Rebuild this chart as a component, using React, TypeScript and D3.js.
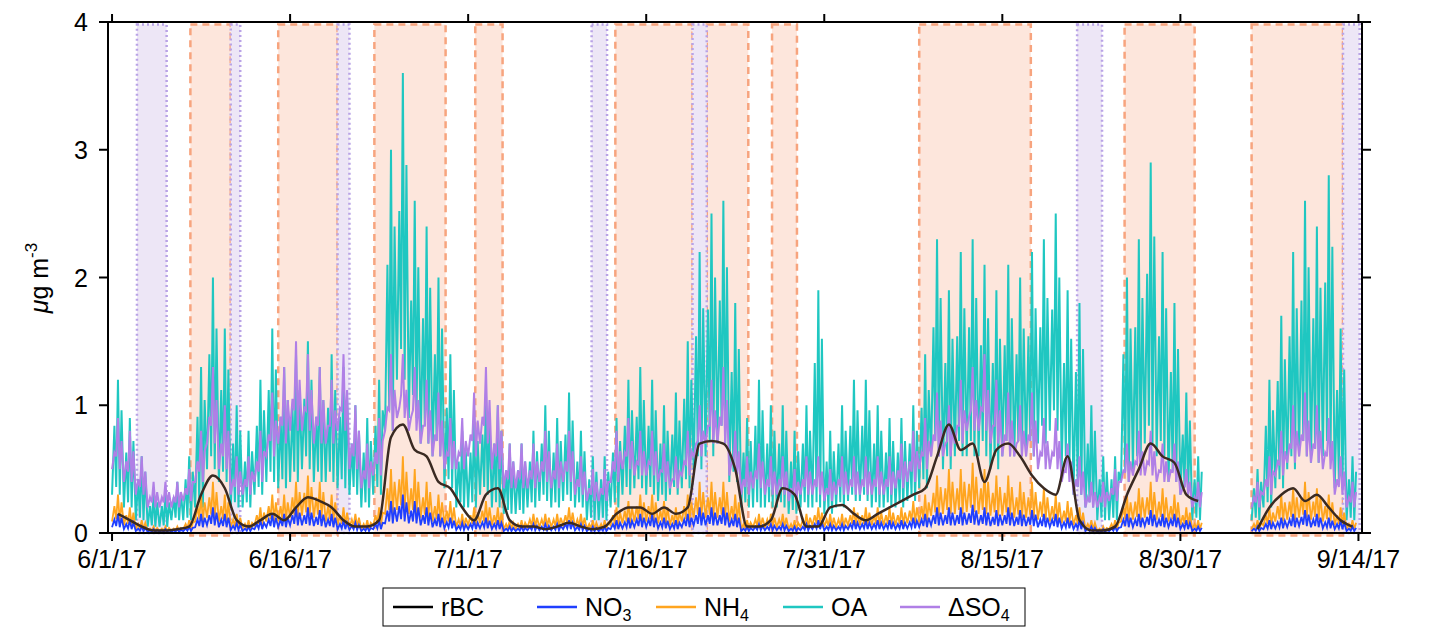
import React, { useEffect, useRef } from 'react';
import * as d3 from 'd3';

// Daily values, day 0 = 6/1/17. null = no data.
const N = null;
const oaPeak = [1.2,0.9,0.6,0.3,0.3,0.4,0.6,1.3,2.0,1.6,1.0,0.8,1.2,1.6,1.3,1.4,1.5,1.3,1.4,1.3,1.0,0.9,1.2,3.0,3.6,2.6,2.4,2.0,1.4,0.8,0.9,1.1,1.0,0.7,0.7,0.8,1.0,0.9,1.1,0.8,0.6,0.6,0.9,1.2,1.3,1.2,1.0,1.1,1.5,2.2,2.5,2.6,1.8,0.9,1.2,1.0,1.0,0.8,1.0,1.9,0.8,1.0,1.2,1.2,1.0,0.9,0.9,1.0,1.4,2.3,1.9,2.2,2.3,2.1,1.9,2.1,2.0,2.2,2.3,2.5,1.9,1.8,1.0,0.6,0.6,2.0,2.3,2.9,2.2,1.8,1.1,0.6,N,N,N,N,0.5,1.2,1.7,2.2,2.6,2.4,2.8,1.6,0.6];
const oaLow = [0.3,0.2,0.1,0.05,0.05,0.1,0.1,0.2,0.5,0.4,0.2,0.2,0.3,0.4,0.35,0.4,0.5,0.4,0.4,0.35,0.3,0.2,0.3,0.8,1.2,0.9,0.7,0.6,0.35,0.2,0.2,0.3,0.2,0.15,0.15,0.2,0.25,0.2,0.25,0.2,0.1,0.1,0.2,0.3,0.35,0.3,0.25,0.3,0.35,0.5,0.6,0.7,0.4,0.2,0.2,0.2,0.2,0.15,0.2,0.2,0.15,0.2,0.25,0.25,0.2,0.2,0.2,0.25,0.35,0.6,0.5,0.6,0.6,0.6,0.5,0.6,0.6,0.6,0.7,0.8,0.5,0.3,0.2,0.1,0.1,0.4,0.5,0.7,0.6,0.4,0.3,0.1,N,N,N,N,0.1,0.2,0.35,0.5,0.6,0.55,0.6,0.35,0.1];
const so4Peak = [0.9,0.8,0.6,0.4,0.4,0.4,0.5,0.8,1.3,1.0,0.6,0.6,0.8,1.1,1.3,1.5,1.4,1.3,1.2,1.4,1.0,0.7,0.9,1.4,1.4,1.3,1.2,1.1,0.9,0.9,1.1,1.3,1.0,0.7,0.7,0.7,0.8,0.7,0.8,0.6,0.5,0.5,0.8,0.9,0.8,0.8,0.7,0.6,0.8,1.0,1.2,1.3,0.8,0.6,0.7,0.6,0.6,0.5,0.6,0.6,0.5,0.6,0.6,0.6,0.6,0.6,0.7,0.8,0.9,1.1,1.0,1.2,1.3,1.4,1.2,1.1,1.0,1.1,0.9,0.9,0.7,0.6,0.4,0.4,0.5,0.7,0.8,0.8,0.7,0.7,0.5,0.4,N,N,N,N,0.4,0.6,0.8,1.0,1.1,1.0,0.9,0.6,0.4];
const so4Low = [0.5,0.4,0.3,0.2,0.2,0.2,0.25,0.4,0.7,0.5,0.3,0.3,0.4,0.6,0.7,0.8,0.8,0.7,0.7,0.8,0.5,0.35,0.45,0.8,0.9,0.8,0.7,0.6,0.5,0.5,0.6,0.7,0.5,0.35,0.35,0.35,0.4,0.35,0.4,0.3,0.25,0.25,0.4,0.5,0.45,0.45,0.4,0.35,0.45,0.6,0.7,0.7,0.45,0.3,0.35,0.3,0.3,0.25,0.3,0.3,0.25,0.3,0.3,0.3,0.3,0.3,0.35,0.4,0.5,0.6,0.6,0.7,0.8,0.8,0.7,0.6,0.6,0.6,0.5,0.5,0.4,0.3,0.2,0.2,0.25,0.4,0.45,0.45,0.4,0.4,0.3,0.2,N,N,N,N,0.2,0.3,0.45,0.55,0.6,0.55,0.5,0.3,0.2];
const nh4Peak = [0.3,0.2,0.1,0.05,0.05,0.05,0.1,0.3,0.4,0.3,0.15,0.1,0.2,0.3,0.3,0.4,0.45,0.4,0.3,0.2,0.15,0.1,0.2,0.5,0.6,0.5,0.4,0.3,0.25,0.15,0.2,0.25,0.2,0.1,0.1,0.15,0.15,0.15,0.2,0.15,0.1,0.1,0.2,0.25,0.3,0.3,0.25,0.2,0.3,0.4,0.4,0.4,0.3,0.1,0.15,0.15,0.15,0.1,0.15,0.2,0.15,0.15,0.2,0.2,0.2,0.2,0.2,0.25,0.3,0.45,0.5,0.5,0.55,0.5,0.45,0.45,0.4,0.4,0.35,0.3,0.25,0.2,0.1,0.05,0.1,0.3,0.35,0.4,0.35,0.3,0.2,0.1,N,N,N,N,0.1,0.2,0.3,0.35,0.4,0.35,0.3,0.2,0.1];
const no3Peak = [0.15,0.1,0.05,0.03,0.03,0.03,0.05,0.15,0.2,0.15,0.08,0.05,0.1,0.15,0.15,0.2,0.2,0.18,0.15,0.1,0.08,0.05,0.1,0.25,0.3,0.25,0.2,0.15,0.12,0.08,0.1,0.12,0.1,0.05,0.05,0.07,0.07,0.07,0.1,0.07,0.05,0.05,0.1,0.12,0.15,0.15,0.12,0.1,0.15,0.2,0.2,0.2,0.15,0.05,0.07,0.07,0.07,0.05,0.07,0.1,0.07,0.07,0.1,0.1,0.1,0.1,0.1,0.12,0.15,0.2,0.2,0.2,0.22,0.2,0.18,0.2,0.18,0.18,0.15,0.15,0.12,0.1,0.05,0.03,0.05,0.15,0.15,0.18,0.15,0.15,0.1,0.05,N,N,N,N,0.05,0.1,0.12,0.15,0.18,0.15,0.12,0.1,0.05];
const rbc = [0.15,0.1,0.05,0.02,0.02,0.03,0.05,0.3,0.45,0.35,0.1,0.05,0.1,0.15,0.1,0.2,0.28,0.25,0.2,0.1,0.05,0.05,0.1,0.75,0.85,0.65,0.6,0.4,0.35,0.2,0.1,0.3,0.35,0.1,0.05,0.05,0.03,0.05,0.08,0.05,0.03,0.05,0.15,0.2,0.2,0.15,0.2,0.15,0.2,0.7,0.72,0.7,0.5,0.05,0.05,0.1,0.35,0.3,0.05,0.05,0.2,0.22,0.15,0.1,0.15,0.2,0.25,0.3,0.35,0.6,0.85,0.65,0.7,0.4,0.65,0.7,0.6,0.45,0.35,0.3,0.6,0.1,0.02,0.02,0.05,0.3,0.5,0.7,0.6,0.55,0.3,0.25,N,N,N,N,0.03,0.2,0.3,0.35,0.25,0.3,0.2,0.1,0.05];

// Highlight periods [startDay, endDay]
const orangeBoxes = [[6.6,10.0],[14.0,19.0],[22.1,28.1],[30.6,32.9],[42.4,48.9],[50.1,53.6],[55.6,57.7],[68.0,77.4],[85.3,91.2],[96.0,103.7]];
const purpleBoxes = [[2.1,4.6],[10.0,10.8],[19.0,20.0],[40.4,41.7],[48.9,50.1],[81.3,83.4],[103.7,105.1]];
const xTicks = ['6/1/17','6/16/17','7/1/17','7/16/17','7/31/17','8/15/17','8/30/17','9/14/17'];
const yTicks = [0, 1, 2, 3, 4];
const legendItems = [
  { name: 'rBC', sub: '', color: '#000000' },
  { name: 'NO', sub: '3', color: '#1f3fff' },
  { name: 'NH', sub: '4', color: '#ffa51f' },
  { name: 'OA', sub: '', color: '#1fc7c1' },
  { name: 'ΔSO', sub: '4', color: '#b07fe6' },
];

const App: React.FC = () => {
  const ref = useRef<SVGSVGElement | null>(null);

  useEffect(() => {
    const svg = d3.select(ref.current);
    svg.selectAll('*').remove();
    const font = 'Liberation Sans, Arial, sans-serif';
    const x = d3.scaleLinear().domain([-0.34, 105.3]).range([108, 1362]);
    const y = d3.scaleLinear().domain([0, 4]).range([533, 22]);
    svg.append('clipPath').attr('id', 'c').append('rect')
      .attr('x', 108).attr('y', 0).attr('width', 1254).attr('height', 533);

    const boxes = svg.append('g');
    orangeBoxes.forEach(([a, b]) => {
      boxes.append('rect').attr('x', x(a)).attr('y', y(3.98)).attr('width', x(b) - x(a)).attr('height', y(-0.02) - y(3.98))
        .attr('fill', '#fde6dc').attr('stroke', '#f7a47e').attr('stroke-width', 2.5).attr('stroke-dasharray', '7,5');
    });
    purpleBoxes.forEach(([a, b]) => {
      boxes.append('rect').attr('x', x(a)).attr('y', y(3.98)).attr('width', x(b) - x(a)).attr('height', y(0) - y(3.98))
        .attr('fill', '#ede6f6').attr('stroke', '#b9a3e6').attr('stroke-width', 2.5).attr('stroke-dasharray', '2,3');
    });

    const g = svg.append('g').attr('clip-path', 'url(#c)');
    const zig = (low: (number | null)[], high: (number | null)[]) => {
      const pts: [number, number | null][] = [];
      low.forEach((l, i) => {
        const h = high[i];
        if (l == null || h == null) { pts.push([i, null]); return; }
        pts.push([i, l], [i + 0.2, h * 0.7], [i + 0.35, l * 1.2], [i + 0.5, h], [i + 0.65, l], [i + 0.8, h * 0.8]);
      });
      return pts;
    };
    const line = d3.line<[number, number | null]>().defined(d => d[1] != null)
      .x(d => x(d[0])).y(d => y(d[1] as number));
    const draw = (pts: [number, number | null][], color: string, w: number) =>
      g.append('path').attr('d', line(pts)).attr('fill', 'none').attr('stroke', color).attr('stroke-width', w);

    draw(zig(oaLow, oaPeak), '#1fc7c1', 2);
    draw(zig(so4Low, so4Peak), '#b07fe6', 2);
    draw(zig(nh4Peak.map(v => v == null ? null : v * 0.3), nh4Peak), '#ffa51f', 1.8);
    draw(zig(no3Peak.map(v => v == null ? null : v * 0.3), no3Peak), '#1f3fff', 1.8);
    const rbcPts = rbc.map((v, i) => [i + 0.5, v] as [number, number | null]);
    g.append('path').attr('d', line.curve(d3.curveMonotoneX)(rbcPts)).attr('fill', 'none')
      .attr('stroke', '#3a2a22').attr('stroke-width', 2.5);

    // frame and ticks
    const ax = svg.append('g').attr('stroke', '#000').attr('stroke-width', 2);
    ax.append('rect').attr('x', 108).attr('y', 22).attr('width', 1254).attr('height', 511).attr('fill', 'none');
    xTicks.forEach((t, i) => {
      const px = x(i * 15);
      ax.append('line').attr('x1', px).attr('x2', px).attr('y1', 533).attr('y2', 541);
      ax.append('line').attr('x1', px).attr('x2', px).attr('y1', 22).attr('y2', 14);
      svg.append('text').attr('x', px).attr('y', 568).attr('text-anchor', 'middle')
        .attr('font-family', font).attr('font-size', 25).text(t);
    });
    yTicks.forEach(v => {
      ax.append('line').attr('x1', 99).attr('x2', 108).attr('y1', y(v)).attr('y2', y(v));
      ax.append('line').attr('x1', 1362).attr('x2', 1371).attr('y1', y(v)).attr('y2', y(v));
      svg.append('text').attr('x', 88).attr('y', y(v) + 9).attr('text-anchor', 'end')
        .attr('font-family', font).attr('font-size', 25).text(v);
    });
    const yl = svg.append('text').attr('transform', 'translate(48,278) rotate(-90)').attr('text-anchor', 'middle')
      .attr('font-family', font).attr('font-size', 25);
    yl.append('tspan').attr('font-style', 'italic').text('μ');
    yl.append('tspan').text('g m');
    yl.append('tspan').attr('font-size', 17).attr('dy', -11).text('-3');

    // legend
    const lg = svg.append('g');
    lg.append('rect').attr('x', 383).attr('y', 588).attr('width', 642).attr('height', 38)
      .attr('fill', '#fff').attr('stroke', '#000').attr('stroke-width', 1);
    const starts = [393, 537, 656, 783, 900];
    legendItems.forEach((it, i) => {
      const sx = starts[i];
      lg.append('line').attr('x1', sx).attr('x2', sx + 40).attr('y1', 607).attr('y2', 607)
        .attr('stroke', it.color).attr('stroke-width', 2.5);
      const t = lg.append('text').attr('x', sx + 48).attr('y', 616).attr('font-family', font).attr('font-size', 25);
      t.append('tspan').text(it.name);
      if (it.sub) t.append('tspan').attr('font-size', 16).attr('dy', 5).text(it.sub);
    });
  }, []);

  return <svg ref={ref} width={1435} height={628} style={{ display: 'block', margin: '-8px 0 0 -8px' }} />;
};

export default App;
